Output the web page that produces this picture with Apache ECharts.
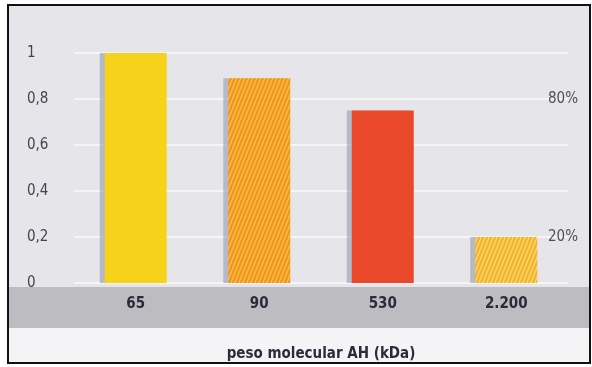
<!DOCTYPE html>
<html><head><meta charset="utf-8">
<script src="https://cdn.jsdelivr.net/npm/echarts@6/dist/echarts.min.js"></script>
<style>html,body{margin:0;padding:0;background:#fff}#c{width:592px;height:367px}</style>
</head><body><div id="c"></div>
<script>
const categories = ['65', '90', '530', '2.200'];
const values = [1.0, 0.89, 0.75, 0.2];
const barColors = ['#f6d31a', '#f0931f', '#e9482b', '#f2b22a'];
const stripeColors = [null, '#f8c040', null, '#fbd86a'];
const rightLabels = {0.2: '20%', 0.8: '80%'};
const axisTitle = 'peso molecular AH (kDa)';

function stripePattern(base, stripe) {
  const w = 4, h = 10;
  const cv = document.createElement('canvas');
  cv.width = w; cv.height = h;
  const ctx = cv.getContext('2d');
  ctx.fillStyle = base; ctx.fillRect(0, 0, w, h);
  ctx.strokeStyle = stripe; ctx.lineWidth = 1.4;
  for (let k = -1; k <= 1; k++) {
    ctx.beginPath(); ctx.moveTo(k * w, h); ctx.lineTo(k * w + w, 0); ctx.stroke();
  }
  return {image: cv, repeat: 'repeat'};
}

const font = '"Liberation Sans Narrow","DejaVu Sans Condensed","Roboto",sans-serif';
const chart = echarts.init(document.getElementById('c'), null, {renderer: 'canvas'});
chart.setOption({
  animation: false,
  backgroundColor: '#ffffff',
  graphic: [
    {type: 'rect', z: -10, shape: {x: 9, y: 6, width: 580, height: 281}, style: {fill: '#e5e5ea'}},
    {type: 'rect', z: -10, shape: {x: 9, y: 287, width: 580, height: 41}, style: {fill: '#bcbcc1'}},
    {type: 'rect', z: -10, shape: {x: 9, y: 328, width: 580, height: 34}, style: {fill: '#f4f4f6'}},
    {type: 'rect', z: 100, shape: {x: 8, y: 5, width: 582, height: 358}, style: {fill: 'none', stroke: '#111', lineWidth: 2}}
  ],
  grid: {left: 74, right: 24, top: 53, bottom: 80},
  xAxis: {
    type: 'category', data: categories,
    axisLine: {show: false}, axisTick: {show: false},
    axisLabel: {margin: 14, fontSize: 15, fontWeight: 'bold', color: '#2b2b3a', fontFamily: font},
    name: axisTitle, nameLocation: 'middle', nameGap: 64,
    nameTextStyle: {fontSize: 15, fontWeight: 'bold', color: '#2b2b3a', fontFamily: font}
  },
  yAxis: [{
    type: 'value', min: 0, max: 1, interval: 0.2,
    axisLine: {show: false}, axisTick: {show: false},
    axisLabel: {align: 'left', margin: 47, fontSize: 15, color: '#444450', fontFamily: font,
      formatter: v => String(Math.round(v * 10) / 10).replace('.', ',')},
    splitLine: {lineStyle: {color: 'rgba(255,255,255,0.6)', width: 2}}
  }, {
    type: 'value', position: 'right', min: 0, max: 1, interval: 0.2,
    axisLine: {show: false}, axisTick: {show: false}, splitLine: {show: false},
    axisLabel: {align: 'left', margin: -20, fontSize: 15, color: '#505058', fontFamily: font,
      formatter: v => rightLabels[Math.round(v * 10) / 10] || ''}
  }],
  series: [{
    type: 'bar', barWidth: 62,
    data: values.map((v, i) => ({
      value: v,
      itemStyle: {
        color: stripeColors[i] ? stripePattern(barColors[i], stripeColors[i]) : barColors[i],
        shadowColor: 'rgba(150,155,175,0.6)', shadowOffsetX: -5, shadowBlur: 0
      }
    }))
  }]
});
</script></body></html>
